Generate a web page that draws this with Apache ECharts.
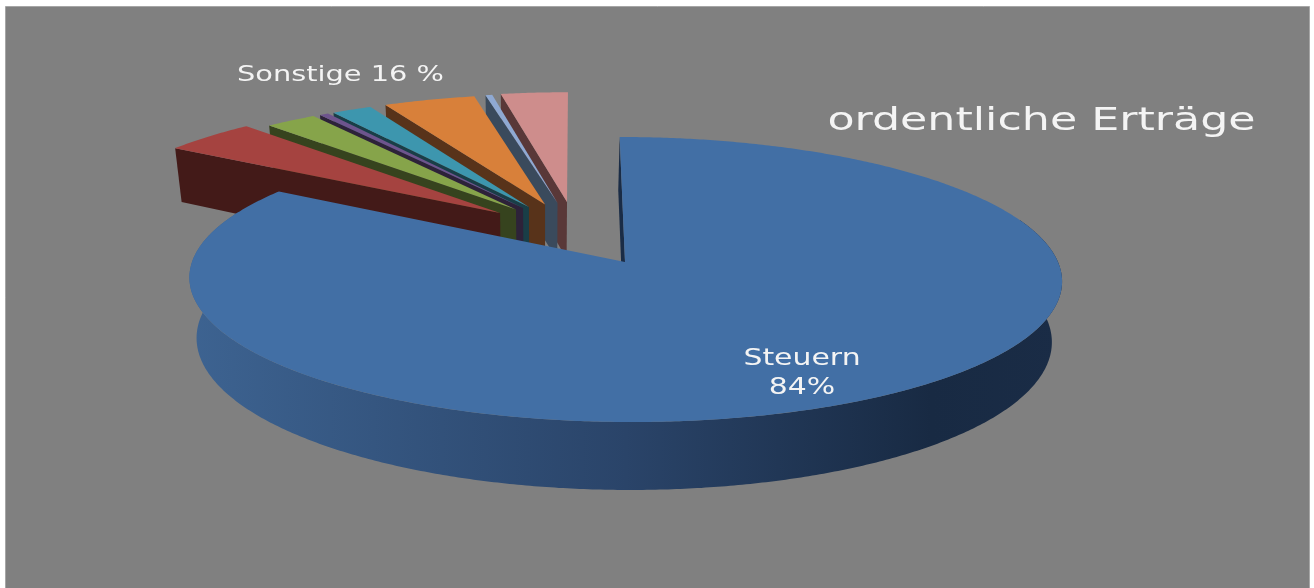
<!DOCTYPE html>
<html>
<head>
<meta charset="utf-8">
<style>
  html, body { margin: 0; padding: 0; background: #fff; }
  #main { width: 1314px; height: 588px; }
</style>
<script src="https://cdn.jsdelivr.net/npm/echarts@6/dist/echarts.min.js"></script>
</head>
<body>
<div id="main"></div>
<script>
// data, percent of ordentliche Erträge
const categories = ['Steuern', 'Posten 1', 'Posten 2', 'Posten 3', 'Posten 4', 'Posten 5', 'Posten 6', 'Posten 7'];
const shares = [84, 4.1, 2.3, 0.4, 1.8, 4.1, 0.3, 3.0];
const titleText = 'ordentliche Erträge';
const groupLabel = 'Sonstige 16 %';

const topColors = ['#426fa5', '#a54340', '#86a44a', '#6e548d', '#3d96ae', '#d8803a', '#8fa9d2', '#ce8d8c'];
const sideColors = ['#1a2c46', '#431a18', '#36431e', '#2d2239', '#193e47', '#58331a', '#3a4a5c', '#593838'];

// tilted disc: disc coords (u, v) -> screen, one mapping for the top face, one for the bottom face
function project(u, v, bottom) {
    if (bottom) {
        const den = 1 + 0.1228 * v + 0.02;
        return [623.5 + (433 * u - 6 * v) / den, (-111.1 * v + 328.5) / den];
    }
    const den = 1 + 0.1228 * v;
    return [625 + (433 * u - 6 * v) / den, (-108.2 * v + 262) / den];
}

function rim(tip, radius, from, to, bottom) {
    const pts = [];
    const n = Math.max(2, Math.ceil((to - from) * 2));
    for (let i = 0; i <= n; i++) {
        const a = (from + (to - from) * i / n) * Math.PI / 180;
        pts.push(project(tip[0] + radius * Math.sin(a), tip[1] + radius * Math.cos(a), bottom));
    }
    return pts;
}

// cumulative angles, clockwise from 12 o'clock
const total = shares.reduce((a, b) => a + b, 0);
let running = 0;
const rows = shares.map((value, index) => {
    const start = running / total * 360;
    running += value;
    return [start, running / total * 360, index];
});

function poly(points, fill, z2) {
    return { type: 'polygon', z2: z2, shape: { points: points }, style: { fill: fill }, silent: true };
}

function renderSlice(params, api) {
    const start = api.value(0);
    const end = api.value(1);
    const index = api.value(2);
    const children = [];
    if (index === 0) {
        // big slice stays in place, only it shows its outer wall
        const tip = [0, 0];
        const wall = rim(tip, 1, 72, 292, false).concat(rim(tip, 1, 72, 292, true).reverse());
        children.push(poly(wall, new echarts.graphic.LinearGradient(0, 0, 1, 0, [
            { offset: 0, color: '#3d6391' },
            { offset: 0.5, color: '#2a4469' },
            { offset: 0.85, color: '#182a43' },
            { offset: 1, color: '#1a2c46' }
        ]), 0));
        children.push(poly([project(0, 1, false), project(0, 0, false), project(0, 0, true), project(0, 1, true)], sideColors[0], 1));
        children.push(poly([project(0, 0, false)].concat(rim(tip, 1, start, end, false)), topColors[0], 2));
    } else {
        const mid = (start + end) / 2;
        const radius = 0.97 + Math.max(0, 320 - mid) * 0.003;
        const dir = (332 + 0.5 * (mid - 332)) * Math.PI / 180;
        const tip = [0.47 * Math.sin(dir), 0.47 * Math.cos(dir)];
        const a = start * Math.PI / 180;
        const outer = [tip[0] + radius * Math.sin(a), tip[1] + radius * Math.cos(a)];
        children.push(poly([project(tip[0], tip[1], false), project(outer[0], outer[1], false), project(outer[0], outer[1], true), project(tip[0], tip[1], true)], sideColors[index], 0));
        children.push(poly([project(tip[0], tip[1], false)].concat(rim(tip, radius, start, end, false)), topColors[index], 1));
    }
    return { type: 'group', children: children };
}

function label(text, x, y, size, scaleX) {
    return {
        type: 'text', x: x, y: y, scaleX: scaleX, z: 10, silent: true,
        style: { text: text, fill: '#f4f4f4', font: size + 'px "DejaVu Sans"', align: 'center', verticalAlign: 'middle', lineHeight: 29 }
    };
}

var chartDom = document.getElementById('main');
var myChart = echarts.init(chartDom);
var option = {
    animation: false,
    backgroundColor: '#ffffff',
    graphic: [
        { type: 'rect', z: -1, silent: true, shape: { x: 5.5, y: 6.5, width: 1304, height: 590 }, style: { fill: '#808080', stroke: '#a6a6a6', lineWidth: 1 } },
        label(titleText, 1041.5, 122, 32, 1.385),
        label(groupLabel, 340.5, 75, 22, 1.31),
        label(categories[0] + '\n' + shares[0] + '%', 802, 374, 23, 1.3)
    ],
    series: [
        {
            type: 'custom',
            coordinateSystem: 'none',
            renderItem: renderSlice,
            // painted from the last slice back to the big one
            data: rows.slice().reverse(),
            silent: true
        }
    ]
};

option && myChart.setOption(option);
</script>
</body>
</html>
